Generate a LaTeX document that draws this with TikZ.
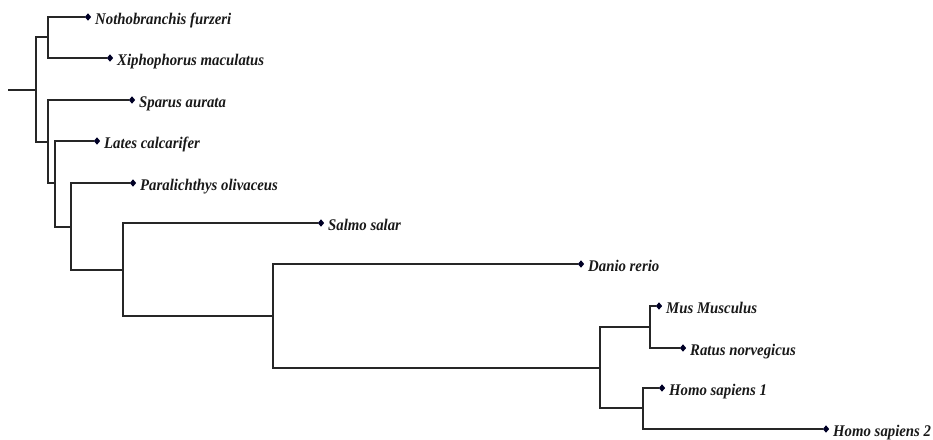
\documentclass[tikz,border=0pt]{standalone}
\usepackage{fontspec}
\usepackage{graphicx}
\setmainfont{Liberation Serif}
\usetikzlibrary{shapes.geometric}
% taxon names: bold italic, set a little taller than wide
\newcommand{\taxname}[1]{\scalebox{1}[1.1]{#1}}
\begin{document}
\begin{tikzpicture}[x=1pt,y=-1pt,
  branch/.style={draw=black!85, line width=1.3pt},
  tip/.style={diamond, fill=black!85!blue, inner sep=0pt, minimum width=6.5pt, minimum height=7.5pt},
  taxon/.style={anchor=base west, inner sep=0pt, xshift=7pt, yshift=-7pt,
    font=\fontsize{14.8}{16}\selectfont\bfseries\itshape, text=black!90}]
\useasboundingbox (0,0) rectangle (933,439);

% internal nodes of the tree
\coordinate (stub) at (8,90);
\coordinate (n0) at (36,90);
\coordinate (n1) at (48,37);
\coordinate (n2) at (48,142);
\coordinate (n3) at (55,183);
\coordinate (n4) at (71,227);
\coordinate (n5) at (123,270);
\coordinate (n6) at (273,316);
\coordinate (n7) at (600,368);
\coordinate (n8) at (650,327);
\coordinate (n9) at (643,408);

% leaf tips
\node[tip] (notho) at (88,17) {};
\node[tip] (xipho) at (110,58) {};
\node[tip] (sparus) at (132,100) {};
\node[tip] (lates) at (97,141) {};
\node[tip] (paral) at (133,183) {};
\node[tip] (salmo) at (321,223) {};
\node[tip] (danio) at (581,264) {};
\node[tip] (mus) at (659,306) {};
\node[tip] (ratus) at (683,348) {};
\node[tip] (homoA) at (662,388) {};
\node[tip] (homoB) at (826,429) {};

% taxon names
\node[taxon] (tNotho) at (notho) {\taxname{Nothobranchis furzeri}};
\node[taxon] (tXipho) at (xipho) {\taxname{Xiphophorus maculatus}};
\node[taxon] (tSparus) at (sparus) {\taxname{Sparus aurata}};
\node[taxon] (tLates) at (lates) {\taxname{Lates calcarifer}};
\node[taxon] (tParal) at (paral) {\taxname{Paralichthys olivaceus}};
\node[taxon] (tSalmo) at (salmo) {\taxname{Salmo salar}};
\node[taxon] (tDanio) at (danio) {\taxname{Danio rerio}};
\node[taxon] (tMus) at (mus) {\taxname{Mus Musculus}};
\node[taxon] (tRatus) at (ratus) {\taxname{Ratus norvegicus}};
\node[taxon] (tHomoA) at (homoA) {\taxname{Homo sapiens 1}};
\node[taxon] (tHomoB) at (homoB) {\taxname{Homo sapiens 2}};

% branches
\draw[branch] (stub) -- (n0);
\draw[branch] (n0) |- (n1);
\draw[branch] (n0) |- (n2);
\draw[branch] (n1) |- (notho);
\draw[branch] (n1) |- (xipho);
\draw[branch] (n2) |- (sparus);
\draw[branch] (n2) |- (n3);
\draw[branch] (n3) |- (lates);
\draw[branch] (n3) |- (n4);
\draw[branch] (n4) |- (paral);
\draw[branch] (n4) |- (n5);
\draw[branch] (n5) |- (salmo);
\draw[branch] (n5) |- (n6);
\draw[branch] (n6) |- (danio);
\draw[branch] (n6) |- (n7);
\draw[branch] (n7) |- (n8);
\draw[branch] (n7) |- (n9);
\draw[branch] (n8) |- (mus);
\draw[branch] (n8) |- (ratus);
\draw[branch] (n9) |- (homoA);
\draw[branch] (n9) |- (homoB);
\end{tikzpicture}
\end{document}
